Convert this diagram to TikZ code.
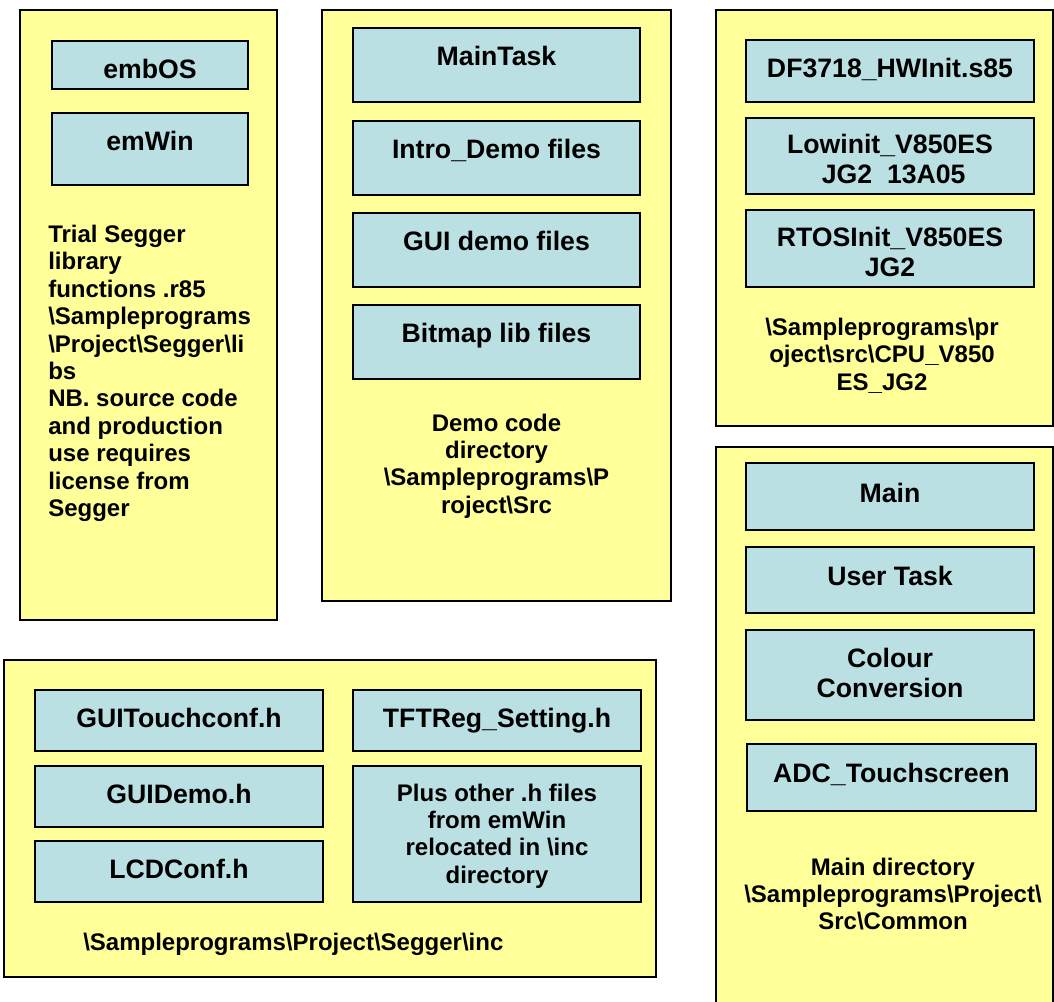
\documentclass[tikz,border=0pt]{standalone}
\usepackage{fontspec}
\setmainfont{Liberation Sans}
\definecolor{paleyellow}{HTML}{FFFF99}
\definecolor{paleblue}{HTML}{BBE0E3}
\begin{document}
\begin{tikzpicture}[x=0.75pt,y=-0.75pt,
  outerbox/.style={draw=black,line width=1.2pt,fill=paleyellow},
  innerbox/.style={draw=black,line width=1.2pt,fill=paleblue},
  bigtxt/.style={font=\fontsize{20}{23}\selectfont\bfseries,inner sep=0pt,anchor=north,align=center},
  smalltxt/.style={font=\fontsize{18}{20.6}\selectfont\bfseries,inner sep=0pt,anchor=north,align=center}]
\useasboundingbox (0,0) rectangle (1054,1002);

% ---------- Box A ----------
\draw[outerbox] (20,10) rectangle (277,620);
\draw[innerbox] (52,41) rectangle (248,89);
\node[bigtxt] (embos) at (150,58.5) {embOS};
\draw[innerbox] (52,113) rectangle (248,185);
\node[bigtxt] (emwin) at (150,130.5) {emWin};
\node[smalltxt,anchor=north west,align=left] (trial) at (48,224.5)
 {Trial Segger\\library\\functions .r85\\\textbackslash Sampleprograms\\\textbackslash Project\textbackslash Segger\textbackslash li\\bs\\NB. source code\\and production\\use requires\\license from\\Segger};

% ---------- Box B ----------
\draw[outerbox] (322,10) rectangle (671,601);
\draw[innerbox] (353,28) rectangle (640,102);
\node[bigtxt] (maintask) at (496.5,45.5) {MainTask};
\draw[innerbox] (353,121) rectangle (640,195);
\node[bigtxt] (intro) at (496.5,138.5) {Intro\_Demo files};
\draw[innerbox] (353,213) rectangle (640,287);
\node[bigtxt] (guidemo) at (496.5,230.5) {GUI demo files};
\draw[innerbox] (353,305) rectangle (640,379);
\node[bigtxt] (bitmap) at (496.5,322.5) {Bitmap lib files};
\node[smalltxt] (democode) at (496.5,413.4)
 {Demo code\\directory\\\textbackslash Sampleprograms\textbackslash P\\roject\textbackslash Src};

% ---------- Box C ----------
\draw[outerbox] (716,10) rectangle (1053,426);
\draw[innerbox] (746,40) rectangle (1034,102);
\node[bigtxt] (df) at (890,58) {DF3718\_HWInit.s85};
\draw[innerbox] (746,118) rectangle (1034,194);
\node[bigtxt] (lowinit) at (890,133.5) {Lowinit\_V850ES\\~JG2~~13A05};
\draw[innerbox] (746,210) rectangle (1034,287);
\node[bigtxt] (rtos) at (890,226.5) {RTOSInit\_V850ES\\JG2};
\node[smalltxt] (cpupath) at (882,317.4)
 {\textbackslash Sampleprograms\textbackslash pr\\oject\textbackslash src\textbackslash CPU\_V850\\ES\_JG2};

% ---------- Box D ----------
\draw[outerbox] (716,447) rectangle (1053,1020);
\draw[innerbox] (746,463) rectangle (1034,530);
\node[bigtxt] (main) at (890,482.5) {Main};
\draw[innerbox] (746,547) rectangle (1034,613);
\node[bigtxt] (usertask) at (890,565.5) {User Task};
\draw[innerbox] (746,630) rectangle (1034,720);
\node[bigtxt] (colour) at (890,647.5) {Colour\\Conversion};
\draw[innerbox] (747,744) rectangle (1036,811);
\node[bigtxt] (adc) at (891.5,762.5) {ADC\_Touchscreen};
\node[smalltxt] (maindir) at (893,857.4)
 {Main directory\\\textbackslash Sampleprograms\textbackslash Project\textbackslash\\Src\textbackslash Common};

% ---------- Box E ----------
\draw[outerbox] (4,660) rectangle (656,977);
\draw[innerbox] (35,690) rectangle (323,751);
\node[bigtxt] (touch) at (179,707.5) {GUITouchconf.h};
\draw[innerbox] (35,766) rectangle (323,827);
\node[bigtxt] (guidemoh) at (179,783.5) {GUIDemo.h};
\draw[innerbox] (35,841) rectangle (323,902);
\node[bigtxt] (lcd) at (179,858.5) {LCDConf.h};
\draw[innerbox] (353,690) rectangle (641,751);
\node[bigtxt] (tft) at (497,707.5) {TFTReg\_Setting.h};
\draw[innerbox] (353,766) rectangle (641,902);
\node[smalltxt] (plus) at (497,783.4)
 {Plus other .h files\\from emWin\\relocated in \textbackslash inc\\directory};
\node[smalltxt,anchor=north west] (incpath) at (83,932.4)
 {\textbackslash Sampleprograms\textbackslash Project\textbackslash Segger\textbackslash inc};
\end{tikzpicture}
\end{document}
